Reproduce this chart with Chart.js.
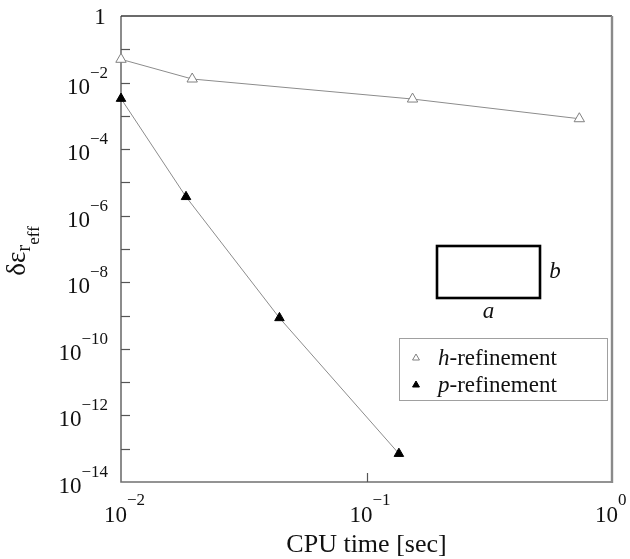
<!DOCTYPE html>
<html>
<head>
<meta charset="utf-8">
<script src="https://cdn.jsdelivr.net/npm/chart.js@4/dist/chart.umd.min.js"></script>
<style>
  html, body { margin: 0; padding: 0; background: #fff; }
  canvas { display: block; }
</style>
</head>
<body>
<canvas id="c" width="630" height="559"></canvas>
<script>
// CPU time [sec] versus effective-permittivity error for the two refinement schemes
const hTime = [0.01, 0.0195, 0.154, 0.736];
const hErr  = [0.05, 0.0128, 0.0032, 0.00082];
const pTime = [0.01, 0.0184, 0.0442, 0.1355];
const pErr  = [0.0033, 3.7e-6, 8.5e-10, 7.1e-14];

const seriesLabels = ['h-refinement', 'p-refinement'];
const seriesItalic = ['h', 'p'];

// decade exponents for ticks and labels
const xTickExps = [-2, -1, 0];
const yLabelExps = [0, -2, -4, -6, -8, -10, -12, -14];
const yTickExps = [0, -1, -2, -3, -4, -5, -6, -7, -8, -9, -10, -11, -12, -13, -14];

const xTitle = 'CPU time [sec]';
const SERIF = '"Liberation Serif", "Times New Roman", serif';

function toPoints(xs, ys) { return xs.map((x, i) => ({ x: x, y: ys[i] })); }

function drawPow(ctx, exp, x, baseY, supDy, align) {
  const base = '10';
  const sup = exp < 0 ? '\u2212' + Math.abs(exp) : String(exp);
  ctx.font = '23px ' + SERIF;
  const wb = ctx.measureText(base).width;
  ctx.font = '17px ' + SERIF;
  const ws = ctx.measureText(sup).width;
  let left = align === 'right' ? x - wb - ws : x;
  if (left + wb + ws > 629) left = 629 - wb - ws;
  ctx.textAlign = 'left';
  ctx.textBaseline = 'alphabetic';
  ctx.font = '23px ' + SERIF;
  ctx.fillText(base, left, baseY);
  ctx.font = '17px ' + SERIF;
  ctx.fillText(sup, left + wb, baseY + supDy);
}

const framePlugin = {
  id: 'frame',
  beforeDatasetsDraw(chart) {
    const { ctx, chartArea: a, scales } = chart;
    ctx.save();
    // frame
    ctx.lineWidth = 1.6;
    ctx.strokeStyle = '#707070';
    ctx.beginPath();
    ctx.moveTo(a.left, a.top); ctx.lineTo(a.left, a.bottom); ctx.lineTo(a.right, a.bottom);
    ctx.stroke();
    ctx.strokeStyle = '#3a3a3a';
    ctx.beginPath(); ctx.moveTo(a.left, a.top); ctx.lineTo(a.right, a.top); ctx.stroke();
    ctx.strokeStyle = '#8a8a8a';
    ctx.lineWidth = 2.4;
    ctx.beginPath(); ctx.moveTo(a.right, a.top); ctx.lineTo(a.right, a.bottom + 1); ctx.stroke();

    // inward ticks
    ctx.strokeStyle = '#555';
    ctx.lineWidth = 1.2;
    yTickExps.forEach(e => {
      const y = Math.round(scales.y.getPixelForValue(Math.pow(10, e))) + 0.5;
      if (e === 0 || e === -14) return;
      ctx.beginPath(); ctx.moveTo(a.left, y); ctx.lineTo(a.left + 9, y); ctx.stroke();
    });
    xTickExps.forEach(e => {
      const x = Math.round(scales.x.getPixelForValue(Math.pow(10, e))) + 0.5;
      if (e === -2 || e === 0) return;
      ctx.beginPath(); ctx.moveTo(x, a.bottom); ctx.lineTo(x, a.bottom - 9); ctx.stroke();
    });
    ctx.restore();
  },
  afterDraw(chart) {
    const { ctx, chartArea: a, scales } = chart;
    ctx.save();
    ctx.fillStyle = '#111';

    // y tick labels
    yLabelExps.forEach(e => {
      const y = scales.y.getPixelForValue(Math.pow(10, e));
      if (e === 0) {
        ctx.font = '23px ' + SERIF;
        ctx.textAlign = 'center';
        ctx.textBaseline = 'alphabetic';
        ctx.fillText('1', a.left - 21, y + 8);
      } else {
        drawPow(ctx, e, a.left - 13, y + 11, -16, 'right');
      }
    });

    // x tick labels
    xTickExps.forEach(e => {
      const x = scales.x.getPixelForValue(Math.pow(10, e));
      drawPow(ctx, e, x - 17, a.bottom + 40, -17, 'left');
    });

    // x title
    ctx.font = '26px ' + SERIF;
    ctx.textAlign = 'center';
    ctx.textBaseline = 'alphabetic';
    ctx.fillText(xTitle, (a.left + a.right) / 2, a.bottom + 70);

    // y title: δε with nested subscripts r, eff
    ctx.save();
    ctx.translate(25, (a.top + a.bottom) / 2 + 2);
    ctx.rotate(-Math.PI / 2);
    ctx.textAlign = 'left';
    const parts = [
      { t: '\u03b4\u03b5', size: 27, dy: 0 },
      { t: 'r', size: 21, dy: 5 },
      { t: 'eff', size: 17, dy: 14 }
    ];
    let total = 0;
    parts.forEach(p => { ctx.font = p.size + 'px ' + SERIF; p.w = ctx.measureText(p.t).width; total += p.w; });
    let cx = -total / 2;
    parts.forEach(p => { ctx.font = p.size + 'px ' + SERIF; ctx.fillText(p.t, cx, p.dy); cx += p.w; });
    ctx.restore();

    // inset sketch of the rectangular cross-section
    const rx = a.left + 316, ry = a.top + 230, rw = 103, rh = 52;
    ctx.strokeStyle = '#000';
    ctx.lineWidth = 2.6;
    ctx.strokeRect(rx, ry, rw, rh);
    ctx.font = 'italic 23px ' + SERIF;
    ctx.textAlign = 'center';
    ctx.fillText('b', rx + rw + 15, ry + rh / 2 + 6);
    ctx.fillText('a', rx + rw / 2, ry + rh + 20);

    // legend
    const lx = a.left + 278, ly = a.top + 322, lw = 208, lh = 62;
    ctx.strokeStyle = '#a0a0a0';
    ctx.lineWidth = 1;
    ctx.strokeRect(lx + 0.5, ly + 0.5, lw, lh);
    chart.data.datasets.forEach((ds, i) => {
      const my = ly + 20 + i * 27;
      ctx.save();
      ctx.beginPath();
      const r = 4;
      const mx = lx + 17;
      ctx.moveTo(mx, my - r);
      ctx.lineTo(mx + r * 0.866, my + r * 0.5);
      ctx.lineTo(mx - r * 0.866, my + r * 0.5);
      ctx.closePath();
      ctx.fillStyle = ds.pointBackgroundColor;
      ctx.fill();
      ctx.strokeStyle = ds.pointBorderColor;
      ctx.lineWidth = 1;
      ctx.stroke();
      ctx.restore();
      const tx = lx + 39, ty = my + 7;
      ctx.textAlign = 'left';
      ctx.font = 'italic 23px ' + SERIF;
      ctx.fillStyle = '#111';
      ctx.fillText(seriesItalic[i], tx, ty);
      const wi = ctx.measureText(seriesItalic[i]).width;
      ctx.font = '23px ' + SERIF;
      ctx.fillText(ds.label.slice(seriesItalic[i].length), tx + wi, ty);
    });
    ctx.restore();
  }
};

new Chart(document.getElementById('c'), {
  type: 'scatter',
  data: {
    datasets: [
      {
        label: seriesLabels[0],
        data: toPoints(hTime, hErr),
        showLine: true,
        borderColor: '#8c8c8c',
        borderWidth: 1,
        pointStyle: 'triangle',
        pointRadius: 6,
        pointBackgroundColor: '#ffffff',
        pointBorderColor: '#808080',
        pointBorderWidth: 1,
        clip: false
      },
      {
        label: seriesLabels[1],
        data: toPoints(pTime, pErr),
        showLine: true,
        borderColor: '#8c8c8c',
        borderWidth: 1,
        pointStyle: 'triangle',
        pointRadius: 5.5,
        pointBackgroundColor: '#000000',
        pointBorderColor: '#000000',
        pointBorderWidth: 1,
        clip: false
      }
    ]
  },
  options: {
    responsive: false,
    animation: false,
    devicePixelRatio: 1,
    layout: { padding: { left: 121, right: 18, top: 16, bottom: 77 } },
    plugins: { legend: { display: false }, tooltip: { enabled: false } },
    scales: {
      x: {
        type: 'logarithmic', min: 0.01, max: 1,
        ticks: { display: false }, grid: { display: false }, border: { display: false },
        afterFit: s => { s.height = 0; }
      },
      y: {
        type: 'logarithmic', min: 1e-14, max: 1,
        ticks: { display: false }, grid: { display: false }, border: { display: false },
        afterFit: s => { s.width = 0; }
      }
    }
  },
  plugins: [framePlugin]
});
</script>
</body>
</html>
